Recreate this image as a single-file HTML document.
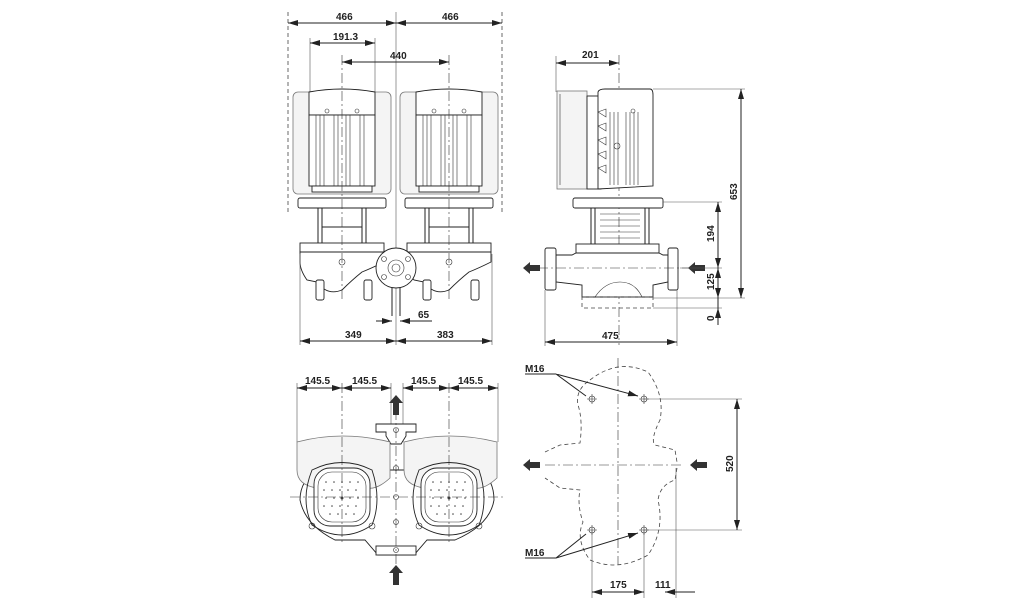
<!DOCTYPE html>
<html><head><meta charset="utf-8"><style>
html,body{margin:0;padding:0;background:#fff}
svg{display:block}
text{font-family:"Liberation Sans",Arial,sans-serif;font-size:10px;font-weight:bold;fill:#222}
.l{stroke:#222;stroke-width:1;fill:none}
.t{stroke:#333;stroke-width:.6;fill:none}
.g{fill:#f4f4f4;stroke:#777;stroke-width:.8}
.w{fill:#fff;stroke:#222;stroke-width:.9}
.c{stroke:#333;stroke-width:.6;stroke-dasharray:10 3 2 3;fill:none}
.d{stroke:#444;stroke-width:.8;stroke-dasharray:4 3;fill:none}
.e{stroke:#555;stroke-width:.6;fill:none}
</style></head><body>
<svg width="1034" height="611" viewBox="0 0 1034 611" xmlns="http://www.w3.org/2000/svg">
<defs>
<marker id="a" markerWidth="10" markerHeight="6" refX="10" refY="3" orient="auto-start-reverse" markerUnits="userSpaceOnUse"><path d="M0,0 L10,3 L0,6z" fill="#222"/></marker>
<g id="motorF">
 <rect class="g" x="-49" y="92" width="98" height="102" rx="5"/>
 <path class="w" d="M-33,115 L-33,92 Q0,86 33,92 L33,115 Z"/>
 <rect class="w" x="-33" y="115" width="66" height="71"/>
 <path class="t" d="M-26,115V186M-22,115V186M-18,115V186M-8,115V186M-4,115V186M4,115V186M8,115V186M18,115V186M22,115V186"/>
 <circle class="t" cx="-15" cy="111" r="2"/><circle class="t" cx="15" cy="111" r="2"/>
 <rect class="w" x="-30" y="186" width="60" height="6"/>
 <rect class="w" x="-44" y="198" width="88" height="10" rx="2"/>
 <path class="l" d="M-24,208V243M-20,208V243M20,208V243M24,208V243M-20,227H20"/>
 <rect class="w" x="-42" y="243" width="84" height="9"/>
 <path class="w" d="M-42,252 L42,252 L42,262 Q30,268 20,272 Q10,280 0,290 Q-15,296 -25,282 L-35,280 Q-42,270 -42,262Z"/>
 <rect class="w" x="-26" y="280" width="8" height="20" rx="2"/>
 <rect class="w" x="22" y="280" width="8" height="20" rx="2"/>
 <circle class="t" cx="0" cy="262" r="3"/>
</g>
<g id="top">
 <path class="g" d="M-45,442 Q0,430 48,442 L48,478 Q35,490 25,488 L-25,488 Q-45,485 -45,470 Z"/>
 <path class="w" d="M-30,470 Q0,455 30,470 Q40,500 30,525 Q0,545 -30,525 Q-42,500 -30,470Z" style="fill:none"/>
 <rect class="w" x="-28" y="468" width="56" height="58" rx="16"/>
 <rect class="t" x="-24" y="472" width="48" height="50" rx="14"/>
 <g fill="#444">
 <circle cx="-16" cy="482" r=".8"/><circle cx="-8" cy="482" r=".8"/><circle cx="0" cy="482" r=".8"/><circle cx="8" cy="482" r=".8"/><circle cx="16" cy="482" r=".8"/>
 <circle cx="-18" cy="490" r=".8"/><circle cx="-10" cy="490" r=".8"/><circle cx="-2" cy="490" r=".8"/><circle cx="6" cy="490" r=".8"/><circle cx="14" cy="490" r=".8"/>
 <circle cx="-16" cy="498" r=".8"/><circle cx="-8" cy="498" r=".8"/><circle cx="0" cy="498" r="1.5"/><circle cx="8" cy="498" r=".8"/><circle cx="16" cy="498" r=".8"/>
 <circle cx="-18" cy="506" r=".8"/><circle cx="-10" cy="506" r=".8"/><circle cx="-2" cy="506" r=".8"/><circle cx="6" cy="506" r=".8"/><circle cx="14" cy="506" r=".8"/>
 <circle cx="-12" cy="514" r=".8"/><circle cx="-4" cy="514" r=".8"/><circle cx="4" cy="514" r=".8"/><circle cx="12" cy="514" r=".8"/>
 </g>
 <circle class="t" cx="-30" cy="526" r="3"/><circle class="t" cx="30" cy="526" r="3"/>
</g>
</defs>

<!-- FRONT VIEW -->
<path class="d" d="M288,12V212M502,12V212"/>
<path class="e" d="M396,12V345"/>
<path class="l" d="M288,23H396" marker-start="url(#a)" marker-end="url(#a)"/>
<path class="l" d="M396,23H502" marker-start="url(#a)" marker-end="url(#a)"/>
<text x="336" y="20">466</text><text x="442" y="20">466</text>
<path class="e" d="M310,38V92M375,38V92"/>
<path class="l" d="M310,43H375" marker-start="url(#a)" marker-end="url(#a)"/>
<text x="333" y="40">191.3</text>
<path class="l" d="M342,62H449" marker-start="url(#a)" marker-end="url(#a)"/>
<text x="390" y="59">440</text>
<use href="#motorF" transform="translate(342,0)"/>
<use href="#motorF" transform="translate(449,0)"/>
<circle class="w" cx="396" cy="268" r="20"/>
<circle class="t" cx="396" cy="268" r="8"/><circle class="t" cx="396" cy="268" r="4"/>
<circle class="t" cx="384" cy="259" r="2.5"/><circle class="t" cx="408" cy="259" r="2.5"/><circle class="t" cx="384" cy="277" r="2.5"/><circle class="t" cx="408" cy="277" r="2.5"/>
<path class="l" d="M392,288V316M400,288V316"/>
<path class="c" d="M342,55V300M449,55V300"/>
<path class="e" d="M300,254V345M492,254V345"/>
<path class="l" d="M376,321H392" marker-end="url(#a)"/>
<path class="l" d="M415,321H400" marker-end="url(#a)"/><path class="l" d="M415,321H432"/>
<text x="418" y="318">65</text>
<path class="l" d="M300,341H396" marker-start="url(#a)" marker-end="url(#a)"/>
<path class="l" d="M396,341H492" marker-start="url(#a)" marker-end="url(#a)"/>
<text x="345" y="338">349</text><text x="437" y="338">383</text>

<!-- SIDE VIEW -->
<path class="e" d="M556,56V92"/>
<path class="c" d="M619,55V345"/>
<path class="l" d="M556,63H619" marker-start="url(#a)" marker-end="url(#a)"/>
<text x="582" y="58">201</text>
<rect class="g" x="557" y="91" width="30" height="98"/>
<path class="t" d="M560,94V185"/>
<rect class="w" x="587" y="96" width="14" height="93"/>
<path class="w" d="M598,92 Q599,89 605,89 L650,89 Q653,89 653,95 L653,186 L598,189 Z"/>
<path class="t" d="M610,112V185M614,112V185M618,112V185M626,112V185M630,112V185M634,112V185M638,112V185"/>
<g class="t"><path d="M598,112l8,-3v8z"/><path d="M598,126l8,-3v8z"/><path d="M598,140l8,-3v8z"/><path d="M598,154l8,-3v8z"/><path d="M598,168l8,-3v8z"/></g>
<circle class="t" cx="617" cy="146" r="3"/><circle class="t" cx="633" cy="111" r="2"/>
<rect class="w" x="573" y="198" width="90" height="10" rx="2"/>
<path class="l" d="M591,208V244M595,208V244M645,208V244M649,208V244"/>
<path class="t" d="M600,214H640M600,220H640M600,226H640M600,232H640M600,238H640"/>
<rect class="w" x="576" y="244" width="83" height="9"/>
<path class="w" d="M556,255 L572,255 L576,253 L659,253 L663,255 L668,255 L668,282 L653,285 L653,297 L582,297 L582,285 L556,282 Z"/>
<path class="t" d="M595,297 Q605,282 620,282 Q635,282 642,297"/>
<rect class="w" x="545" y="248" width="11" height="42" rx="2"/>
<rect class="w" x="668" y="248" width="10" height="42" rx="2"/>
<rect class="d" x="582" y="297" width="71" height="11"/>
<path class="c" d="M538,268H690"/>
<path d="M530,265h10v6h-10v3l-7,-6l7,-6z" fill="#333"/>
<path d="M695,265h10v6h-10v3l-7,-6l7,-6z" fill="#333"/>
<path class="e" d="M653,89H745M663,202H722M680,268H722M653,298H745M653,308H722"/>
<path class="l" d="M741,89V298" marker-start="url(#a)" marker-end="url(#a)"/>
<text transform="translate(737,200) rotate(-90)">653</text>
<path class="l" d="M718,202V268" marker-start="url(#a)" marker-end="url(#a)"/>
<path class="l" d="M718,268V298" marker-start="url(#a)" marker-end="url(#a)"/>
<path class="l" d="M718,308V325M718,308V296" marker-start="url(#a)"/>
<text transform="translate(714,242) rotate(-90)">194</text>
<text transform="translate(714,290) rotate(-90)">125</text>
<text transform="translate(714,321) rotate(-90)">0</text>
<path class="e" d="M545,290V346M677,290V346"/>
<path class="l" d="M545,342H677" marker-start="url(#a)" marker-end="url(#a)"/>
<text x="602" y="339">475</text>

<!-- TOP VIEW LEFT -->
<path class="e" d="M297,383V442M391,383V442M403,383V442M498,383V442"/>
<path class="l" d="M297,388H342" marker-start="url(#a)" marker-end="url(#a)"/>
<path class="l" d="M342,388H391" marker-start="url(#a)" marker-end="url(#a)"/>
<path class="l" d="M403,388H449" marker-start="url(#a)" marker-end="url(#a)"/>
<path class="l" d="M449,388H498" marker-start="url(#a)" marker-end="url(#a)"/>
<text x="305" y="384">145.5</text><text x="352" y="384">145.5</text><text x="411" y="384">145.5</text><text x="458" y="384">145.5</text>
<path class="w" d="M376,424h40v8h-10v4l-5,8h-10l-5,-8v-4h-10z"/>
<path class="w" d="M318,470 Q300,480 300,500 Q305,525 335,540 L365,540 L378,555 L414,555 L427,540 L455,540 Q490,525 494,500 Q494,480 480,470Z"/>
<rect class="w" x="376" y="546" width="40" height="9"/>
<use href="#top" transform="translate(342,0)"/>
<use href="#top" transform="translate(449,0)"/>
<circle class="t" cx="396" cy="430" r="2.5"/><circle class="t" cx="396" cy="468" r="2.5"/><circle class="t" cx="396" cy="497" r="2.5"/><circle class="t" cx="396" cy="522" r="2.5"/><circle class="t" cx="396" cy="550" r="2.5"/>
<path class="c" d="M342,383V545M449,383V545M396,410V575M290,497H505"/>
<path d="M393,415v-12h-4l7,-8l7,8h-4v12z" fill="#333"/>
<path d="M393,585v-12h-4l7,-8l7,8h-4v12z" fill="#333"/>

<!-- FOOTPRINT -->
<path class="c" d="M618,358V565M545,465H682"/>
<path class="d" d="M590,380 Q618,358 648,372 Q665,395 660,420 Q650,440 655,445 L675,450 L677,462 M677,468 L675,480 Q660,485 658,500 Q665,530 648,555 Q618,572 590,560 Q575,540 583,522 Q577,505 580,490 L560,488 L545,478 M545,452 L560,445 L580,443 Q583,420 578,405 Q575,390 590,380"/>
<circle class="t" cx="592" cy="399" r="3"/><circle class="t" cx="644" cy="399" r="3"/>
<circle class="t" cx="592" cy="530" r="3"/><circle class="t" cx="644" cy="530" r="3"/>
<path class="t" d="M587,399h10M592,394v10M639,399h10M644,394v10M587,530h10M592,525v10M639,530h10M644,525v10"/>
<path d="M530,462h10v6h-10v3l-7,-6l7,-6z" fill="#333"/>
<path d="M697,462h10v6h-10v3l-7,-6l7,-6z" fill="#333"/>
<path class="e" d="M644,399H742M644,530H742M592,530V598M644,530V598M676,468V598"/>
<path class="l" d="M737,399V530" marker-start="url(#a)" marker-end="url(#a)"/>
<text transform="translate(733,472) rotate(-90)">520</text>
<path class="l" d="M592,592H644" marker-start="url(#a)" marker-end="url(#a)"/>
<path class="l" d="M665,592H676M695,592H676" marker-start="url(#a)"/>
<text x="610" y="588">175</text><text x="655" y="588">111</text>
<text x="525" y="372">M16</text>
<path class="l" d="M525,374H556L586,396M556,374L638,396" marker-end="url(#a)"/>
<text x="525" y="556">M16</text>
<path class="l" d="M525,558H556L586,534M556,558L638,533" marker-end="url(#a)"/>
</svg>
</body></html>
